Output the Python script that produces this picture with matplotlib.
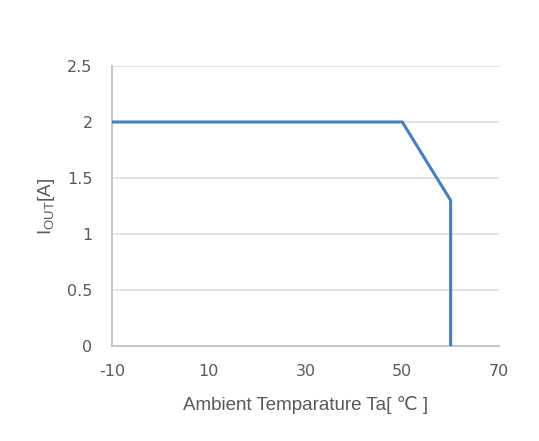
import matplotlib
matplotlib.use("Agg")
import matplotlib.pyplot as plt

plt.rcParams["axes.unicode_minus"] = False

# derating curve
temp = [-10, 50, 60, 60]
iout = [2.0, 2.0, 1.3, 0.0]

xticks = [-10, 10, 30, 50, 70]
yticks = [0, 0.5, 1, 1.5, 2, 2.5]
yticklabels = ["0", "0.5", "1", "1.5", "2", "2.5"]

grey = "#595959"
fig = plt.figure(figsize=(5.39, 4.41), dpi=100)
ax = fig.add_axes([0.2078, 0.2154, 0.718, 0.635])

for y in yticks[1:]:
	ax.axhline(y, color="#d9d9d9", lw=1.1, zorder=1)
ax.plot(temp, iout, color="#4a7ebb", lw=2.2, zorder=3, solid_joinstyle="miter")

ax.set_xlim(-10, 70)
ax.set_ylim(0, 2.5)
ax.set_xticks(xticks)
ax.set_yticks(yticks)
ax.set_yticklabels(yticklabels)
ax.tick_params(length=0, labelsize=11.5, labelcolor=grey)
ax.tick_params(axis="x", pad=13)
ax.tick_params(axis="y", pad=14)

for s in ["top", "right"]:
	ax.spines[s].set_visible(False)
for s in ["left", "bottom"]:
	ax.spines[s].set_color("#bfbfbf")
	ax.spines[s].set_linewidth(1.3)

fam = ["Liberation Sans", "DejaVu Sans"]
ax.set_xlabel("Ambient Temparature Ta[ ℃ ]", fontsize=13.5, color=grey, family=fam, labelpad=12)
ax.set_ylabel(r"$\mathregular{I_{OUT}}$[A]", fontsize=13.5, color=grey, family="Liberation Sans", labelpad=7)

fig.savefig("out.png", dpi=100)
